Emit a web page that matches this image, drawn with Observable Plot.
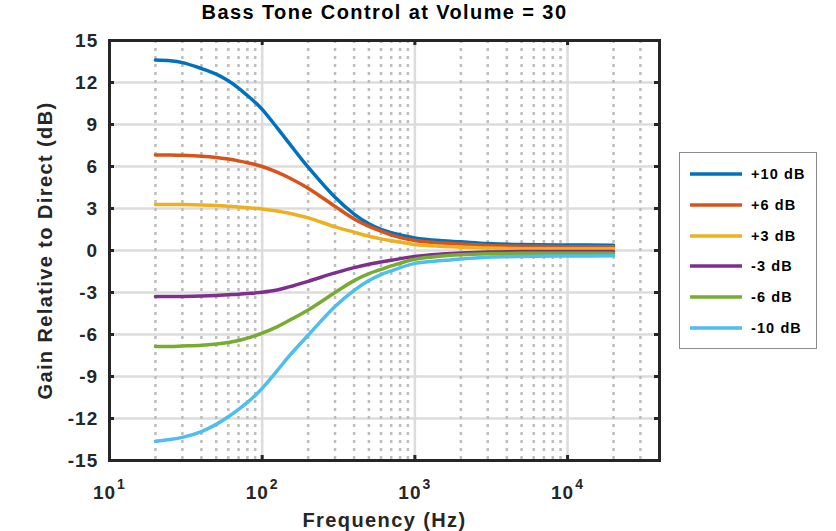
<!DOCTYPE html>
<html>
<head>
<meta charset="utf-8">
<script src="https://cdn.jsdelivr.net/npm/d3@7"></script>
<script src="https://cdn.jsdelivr.net/npm/@observablehq/plot@0.6"></script>
<style>
  body { margin: 0; background: #fff; }
  #wrap { position: relative; width: 836px; height: 531px; overflow: hidden; font-family: "Liberation Sans", Arial, sans-serif; }
  #legend { position: absolute; left: 679px; top: 152px; width: 138px; height: 197px; border: 1px solid #8c8c8c; background: #fff; box-sizing: border-box; }
  .row { position: absolute; left: 0; height: 20px; display: flex; align-items: center; }
  .row span { font-weight: bold; font-size: 14.5px; letter-spacing: 1.1px; color: #000; margin-left: 9px; }
  .row svg { display: block; margin-left: 10px; }
</style>
</head>
<body>
<div id="wrap"><div id="chart"></div><div id="legend"></div></div>
<script>
// ---- data ----
const freqs = [20, 25, 30, 40, 50, 60, 70, 80, 90, 100, 125, 150, 200, 300, 400, 500, 600, 700, 1000, 1500, 2000, 3000, 5000, 10000, 20000];
const seriesNames = ["+10 dB", "+6 dB", "+3 dB", "-3 dB", "-6 dB", "-10 dB"];
const seriesColors = ["#0072BD", "#D95319", "#EDB120", "#7E2F8E", "#77AC30", "#4DBEEE"];
const gainP10 = [13.6, 13.55, 13.42, 13.0, 12.6, 12.12, 11.6, 11.07, 10.58, 10.08, 8.78, 7.67, 5.95, 3.8, 2.6, 1.9, 1.5, 1.27, 0.9, 0.7, 0.62, 0.5, 0.42, 0.39, 0.38];
const gainP6  = [6.83, 6.82, 6.8, 6.74, 6.65, 6.53, 6.4, 6.27, 6.14, 6.0, 5.6, 5.2, 4.45, 3.15, 2.25, 1.72, 1.38, 1.1, 0.72, 0.53, 0.46, 0.36, 0.3, 0.27, 0.26];
const gainP3  = [3.29, 3.29, 3.28, 3.25, 3.21, 3.16, 3.11, 3.06, 3.02, 2.97, 2.82, 2.66, 2.33, 1.69, 1.31, 1.02, 0.83, 0.7, 0.43, 0.3, 0.24, 0.17, 0.13, 0.12, 0.12];
const gainM3  = [-3.29, -3.29, -3.28, -3.25, -3.21, -3.16, -3.12, -3.07, -3.03, -2.98, -2.82, -2.6, -2.2, -1.6, -1.22, -0.98, -0.82, -0.7, -0.42, -0.25, -0.17, -0.11, -0.08, -0.07, -0.07];
const gainM6  = [-6.86, -6.85, -6.82, -6.77, -6.68, -6.57, -6.43, -6.26, -6.08, -5.9, -5.45, -5.0, -4.25, -3.0, -2.15, -1.65, -1.35, -1.1, -0.62, -0.4, -0.31, -0.24, -0.2, -0.19, -0.19];
const gainM10 = [-13.62, -13.5, -13.35, -12.93, -12.42, -11.88, -11.35, -10.85, -10.35, -9.85, -8.6, -7.55, -6.05, -4.0, -2.85, -2.15, -1.72, -1.45, -0.92, -0.72, -0.6, -0.48, -0.42, -0.39, -0.38];
const yTicks = [-15, -12, -9, -6, -3, 0, 3, 6, 9, 12, 15];
const xMajor = [10, 100, 1000, 10000];
const xExponents = ["1", "2", "3", "4"];
const xMinor = [20, 30, 40, 50, 60, 70, 80, 90, 200, 300, 400, 500, 600, 700, 800, 900, 2000, 3000, 4000, 5000, 6000, 7000, 8000, 9000, 20000, 30000];
const xDomain = [10, 40000];
const yDomain = [-15, 15];
const titleText = "Bass Tone Control at Volume = 30";
const xLabel = "Frequency (Hz)";
const yLabel = "Gain Relative to Direct (dB)";

const allGains = [gainP10, gainP6, gainP3, gainM3, gainM6, gainM10];
const rows = allGains.flatMap((g, i) => freqs.map((f, j) => ({series: seriesNames[i], f, g: g[j]})));

const axisColor = "#262626";
const plot = Plot.plot({
  width: 836,
  height: 531,
  marginLeft: 109,
  marginRight: 177,
  marginTop: 40,
  marginBottom: 71,
  style: {fontFamily: '"Liberation Sans", Arial, sans-serif', fontWeight: "bold", fontSize: "19px", color: axisColor, letterSpacing: "1px", background: "#fff", overflow: "visible"},
  x: {type: "log", domain: xDomain, axis: null},
  y: {domain: yDomain, axis: null},
  color: {domain: seriesNames, range: seriesColors},
  marks: [
    Plot.ruleY(yTicks.slice(1, -1), {stroke: "#dcdcdc", strokeWidth: 2.5}),
    Plot.ruleX(xMinor, {stroke: "#bdbdbd", strokeWidth: 2.5, strokeDasharray: "3,5"}),
    Plot.ruleX(xMajor.slice(1), {stroke: "#dcdcdc", strokeWidth: 2.5}),
    Plot.line(rows, {x: "f", y: "g", z: "series", stroke: "series", strokeWidth: 3.5, curve: "catmull-rom"}),
    Plot.ruleY(yTicks, {insetRight: 545, stroke: axisColor, strokeWidth: 3}),
    Plot.ruleY(yTicks, {insetLeft: 545, stroke: axisColor, strokeWidth: 3}),
    Plot.ruleX(xMajor, {insetBottom: 415, stroke: axisColor, strokeWidth: 3}),
    Plot.ruleX(xMajor, {insetTop: 415, stroke: axisColor, strokeWidth: 3}),
    Plot.frame({stroke: axisColor, strokeWidth: 3}),
    Plot.text(yTicks, {y: d => d, frameAnchor: "left", textAnchor: "end", dx: -11.3, text: d => String(d), fill: axisColor}),
    Plot.text(xMajor, {x: d => d, frameAnchor: "bottom", textAnchor: "end", lineAnchor: "bottom", dx: 6.6, dy: 38.3, text: () => "10", fill: axisColor}),
    Plot.text(xMajor, {x: d => d, frameAnchor: "bottom", textAnchor: "start", lineAnchor: "bottom", dx: 7.6, dy: 28.3, text: (d, i) => xExponents[i], fontSize: 14, fill: axisColor}),
    Plot.text([xLabel], {frameAnchor: "bottom", textAnchor: "middle", lineAnchor: "bottom", dy: 66, fontSize: 20, fill: axisColor}),
    Plot.text([yLabel], {frameAnchor: "left", textAnchor: "middle", lineAnchor: "middle", rotate: -90, dx: -63.5, fontSize: 20, fill: axisColor}),
    Plot.text([titleText], {frameAnchor: "top", textAnchor: "middle", lineAnchor: "bottom", dy: -21.7, fontSize: 20, fill: "#000"})
  ]
});
document.getElementById("chart").appendChild(plot);

// slightly wider tracking for the title and axis labels
d3.select(plot).selectAll("text")
  .filter(function () { const t = this.textContent; return t === titleText || t === xLabel || t === yLabel; })
  .style("letter-spacing", "1.4px");

// legend
const legend = document.getElementById("legend");
const rowStep = 30.8;
seriesNames.forEach((name, i) => {
  const row = document.createElement("div");
  row.className = "row";
  row.style.top = (11 + i * rowStep) + "px";
  const svgNS = "http://www.w3.org/2000/svg";
  const sw = document.createElementNS(svgNS, "svg");
  sw.setAttribute("width", "52");
  sw.setAttribute("height", "6");
  const ln = document.createElementNS(svgNS, "line");
  ln.setAttribute("x1", "0"); ln.setAttribute("x2", "52");
  ln.setAttribute("y1", "3"); ln.setAttribute("y2", "3");
  ln.setAttribute("stroke", seriesColors[i]);
  ln.setAttribute("stroke-width", "3.5");
  sw.appendChild(ln);
  const label = document.createElement("span");
  label.textContent = name;
  row.appendChild(sw);
  row.appendChild(label);
  legend.appendChild(row);
});
</script>
</body>
</html>
